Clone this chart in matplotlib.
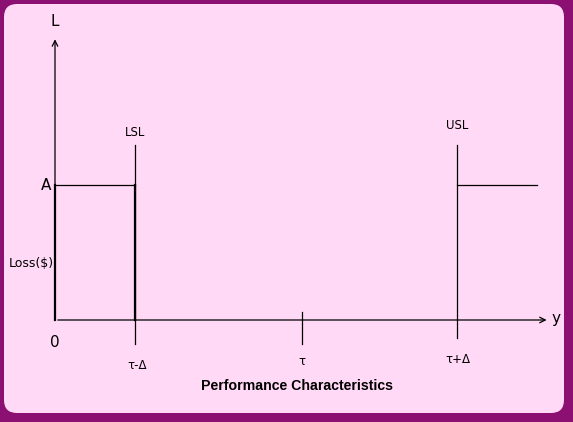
import matplotlib
matplotlib.use('Agg')
import matplotlib.pyplot as plt
from matplotlib.patches import FancyBboxPatch

# spec positions along the characteristic axis (arbitrary units)
spec_names = ['LSL', 'USL']
spec_x = [1.0, 5.03]
tau_x = 3.09
tick_labels = ['τ-Δ', 'τ', 'τ+Δ']
tick_x = [1.03, 3.09, 5.03]
loss_A = 1.0
right_end = 6.02

W, H = 573, 422
fig = plt.figure(figsize=(W/100, H/100), dpi=100)
fig.patch.set_facecolor('#8c0f72')
# pink panel in inches (dpi 100 -> 1 px = 0.01 in)
bg = FancyBboxPatch((0.04, 0.09), 5.60, 4.09,
                    boxstyle='round,pad=0,rounding_size=0.13',
                    transform=fig.dpi_scale_trans, fc='#ffd9f5', ec='none', zorder=-10)
fig.patches.append(bg)

ax = fig.add_axes([0, 0, 1, 1])
ax.patch.set_alpha(0)
ax.set_xlim(-55/80, (W-55)/80)
ax.set_ylim(-(H-320)/135, 320/135)
ax.axis('off')

k = 'black'
# axes with arrows
ax.annotate('', xy=(0, 2.1), xytext=(0, 0),
            arrowprops=dict(arrowstyle='->', color=k, lw=0.9))
ax.annotate('', xy=(6.18, 0), xytext=(0, 0),
            arrowprops=dict(arrowstyle='->', color=k, lw=0.9))
ax.text(0, 2.21, 'L', ha='center', va='center', fontsize=11, family='DejaVu Sans')
ax.text(6.26, 0.01, 'y', ha='center', va='center', fontsize=11, family='DejaVu Sans')
ax.text(-0.05, loss_A, 'A', ha='right', va='center', fontsize=11, family='DejaVu Sans')
ax.text(0, -0.17, '0', ha='center', va='center', fontsize=11, family='DejaVu Sans')
ax.text(-0.3, 0.415, 'Loss($)', ha='center', va='center', fontsize=9, family='DejaVu Sans')

# loss function
ax.plot([0, 0], [0, loss_A], color=k, lw=1.6)
ax.plot([0, spec_x[0]], [loss_A, loss_A], color=k, lw=0.9)
ax.plot([spec_x[0], spec_x[0]], [0, loss_A], color=k, lw=1.6)
ax.plot([spec_x[1], right_end], [loss_A, loss_A], color=k, lw=0.9)

# spec limits
for name, x in zip(spec_names, spec_x):
    ax.plot([x, x], [-0.18 if name == 'LSL' else -0.13, 1.3], color=k, lw=0.9)
ax.text(spec_x[0], 1.39, spec_names[0], ha='center', va='center', fontsize=8.5)
ax.text(spec_x[1], 1.44, spec_names[1], ha='center', va='center', fontsize=8.5)
ax.plot([tau_x, tau_x], [-0.18, 0.06], color=k, lw=0.9)

for x, lab, dy in zip(tick_x, tick_labels, [-0.34, -0.31, -0.29]):
    ax.text(x, dy, lab, ha='center', va='center', fontsize=8.5)

ax.text(3.02, -0.49, 'Performance Characteristics', ha='center', va='center',
        fontsize=10.2, fontweight='bold', family='Liberation Sans')

fig.savefig('out.png', dpi=100, facecolor=fig.get_facecolor())
